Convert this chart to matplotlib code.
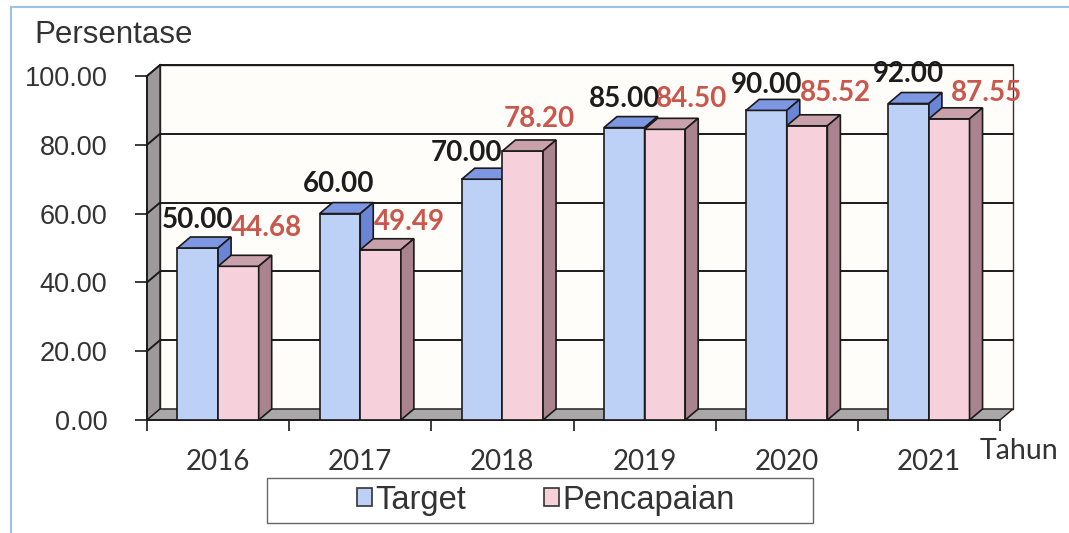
import numpy as np
import matplotlib
matplotlib.use("Agg")
import matplotlib.pyplot as plt
from matplotlib.patches import Polygon, Rectangle, Patch
from matplotlib.lines import Line2D

# data
years = ['2016', '2017', '2018', '2019', '2020', '2021']
target = [50.00, 60.00, 70.00, 85.00, 90.00, 92.00]
pencapaian = [44.68, 49.49, 78.20, 84.50, 85.52, 87.55]
y_ticks = [0, 20, 40, 60, 80, 100]

# label nudges (x in category units, y in value units)
target_nudge = [(0.0, 9.0), (-0.01, 9.2), (-0.11, 8.2), (0.0, 8.9), (0.0, 8.0), (0.0, 9.2)]
pencap_nudge = [(0.2, 12.0), (0.2, 8.9), (0.12, 9.9), (0.19, 9.4), (0.2, 10.4), (0.26, 8.1)]

ARIAL = 'Liberation Sans'
CALIBRI = 'Lato'

W, H = 1069, 533
fig = plt.figure(figsize=(W / 100, H / 100), dpi=100)
fig.patch.set_facecolor('white')

# front plane of the 3D box
ax = fig.add_axes([147 / W, (H - 420) / H, 853 / W, 344 / H])
n = len(years)
ax.set_xlim(0, n)
ax.set_ylim(0, 100)
ax.set_facecolor('none')

# depth offset of the 3D box
DX = 13 / 142.17
DY = 11 / 3.44
EDGE = '#1a1a1a'

# back wall
ax.add_patch(Polygon([(DX, DY), (n + DX, DY), (n + DX, 100 + DY), (DX, 100 + DY)],
                     closed=True, facecolor='#fefdfa', edgecolor='#333333',
                     lw=1.0, zorder=0.5, clip_on=False))
# gridlines on the back wall plus their diagonals on the side wall
for v in y_ticks[1:]:
    ax.add_line(Line2D([DX, n + DX], [v + DY, v + DY], color=EDGE, lw=1.4,
                       zorder=1, clip_on=False))
# left side wall
ax.add_patch(Polygon([(0, 0), (DX, DY), (DX, 100 + DY), (0, 100)], closed=True,
                     facecolor='#9e9a9b', edgecolor=EDGE, lw=1.0, zorder=1.2,
                     clip_on=False))
for v in y_ticks[1:]:
    ax.add_line(Line2D([0, DX], [v, v + DY], color=EDGE, lw=1.4,
                       zorder=1.3, clip_on=False))
# floor
ax.add_patch(Polygon([(0, 0), (n, 0), (n + DX, DY), (DX, DY)], closed=True,
                     facecolor='#a9a7a8', edgecolor=EDGE, lw=1.0, zorder=1.5,
                     clip_on=False))

bar_w = 1 / 3.5
gap = (1 - 2 * bar_w) / 2
series = [
    (target, '#bdd0f6', '#7d97e2', '#6a85d6', 3),
    (pencapaian, '#f6d0da', '#c9a1ab', '#a9838e', 4),
]
x = np.arange(n)
for k, (vals, c_front, c_top, c_side, z) in enumerate(series):
    left = x + gap + k * bar_w
    ax.bar(left, vals, width=bar_w, align='edge', color=c_front,
           edgecolor=EDGE, linewidth=1.2, zorder=z, clip_on=False)
    for x0, v in zip(left, vals):
        ax.add_patch(Polygon([(x0, v), (x0 + DX, v + DY), (x0 + bar_w + DX, v + DY),
                              (x0 + bar_w, v)], closed=True, facecolor=c_top,
                             edgecolor=EDGE, lw=1.2, zorder=z, clip_on=False))
        ax.add_patch(Polygon([(x0 + bar_w, 0), (x0 + bar_w + DX, DY),
                              (x0 + bar_w + DX, v + DY), (x0 + bar_w, v)],
                             closed=True, facecolor=c_side, edgecolor=EDGE,
                             lw=1.2, zorder=z, clip_on=False))

# value labels
for i in range(n):
    xc = i + gap + bar_w / 2
    ddx, ddy = target_nudge[i]
    ax.text(xc + ddx, target[i] + ddy, f'{target[i]:.2f}', ha='center',
            va='center_baseline', fontsize=20, fontweight='bold',
            family=CALIBRI, color='#1c1c1c', zorder=6, clip_on=False)
    xc = i + gap + 1.5 * bar_w
    ddx, ddy = pencap_nudge[i]
    ax.text(xc + ddx, pencapaian[i] + ddy, f'{pencapaian[i]:.2f}', ha='center',
            va='center_baseline', fontsize=20, fontweight='bold',
            family=CALIBRI, color='#c9574c', zorder=6, clip_on=False)

# axes
for s in ['top', 'right']:
    ax.spines[s].set_visible(False)
for s in ['left', 'bottom']:
    ax.spines[s].set_color(EDGE)
    ax.spines[s].set_linewidth(1.3)
    ax.spines[s].set_zorder(2.5)

ax.set_yticks(y_ticks)
ax.set_yticklabels([f'{v:.2f}' for v in y_ticks], family=ARIAL, fontsize=19.5,
                   color='#333333')
ax.tick_params(axis='y', direction='out', length=8.6, width=1.2, color=EDGE, pad=20)

ax.set_xticks(x + 0.5)
ax.set_xticklabels(years, family=CALIBRI, fontsize=20, color='#333333')
ax.set_xticks(np.arange(n + 1), minor=True)
ax.tick_params(axis='x', which='major', length=0, pad=21)
ax.tick_params(axis='x', which='minor', direction='out', length=8, width=1.2,
               color=EDGE)

fig.text(34 / W, 1 - 43 / H, 'Persentase', ha='left', va='baseline',
         family=ARIAL, fontsize=22.5, color='#333333')
fig.text(980 / W, 1 - 459 / H, 'Tahun', ha='left', va='baseline',
         family=CALIBRI, fontsize=20.5, color='#333333')

# legend with a fixed-size frame
fig.patches.append(Rectangle((267 / W, (H - 523) / H), 546 / W, 45 / H,
                             transform=fig.transFigure, fill=False,
                             edgecolor='#666666', lw=1.0))
handles = [Patch(facecolor='#bdd0f6', edgecolor='#333333', lw=1.2),
           Patch(facecolor='#f6d0da', edgecolor='#333333', lw=1.2)]
fig.legend(handles, ['Target', 'Pencapaian'], loc='center',
           bbox_to_anchor=(546 / W, 1 - 500 / H), ncol=2, frameon=False,
           handlelength=0.45, handleheight=0.45, handletextpad=0.1,
           columnspacing=2.4, prop={'family': ARIAL, 'size': 23.5})
for t in fig.legends[0].get_texts():
    t.set_color('#333333')

# outer chart frame
fig.add_artist(Line2D([11 / W, 1.0], [1 - 7 / H, 1 - 7 / H], transform=fig.transFigure,
                      color='#9cc3e5', lw=1.5))
fig.add_artist(Line2D([11 / W, 11 / W], [0.0, 1 - 7 / H], transform=fig.transFigure,
                      color='#9cc3e5', lw=1.5))

fig.savefig('out.png', dpi=100)
